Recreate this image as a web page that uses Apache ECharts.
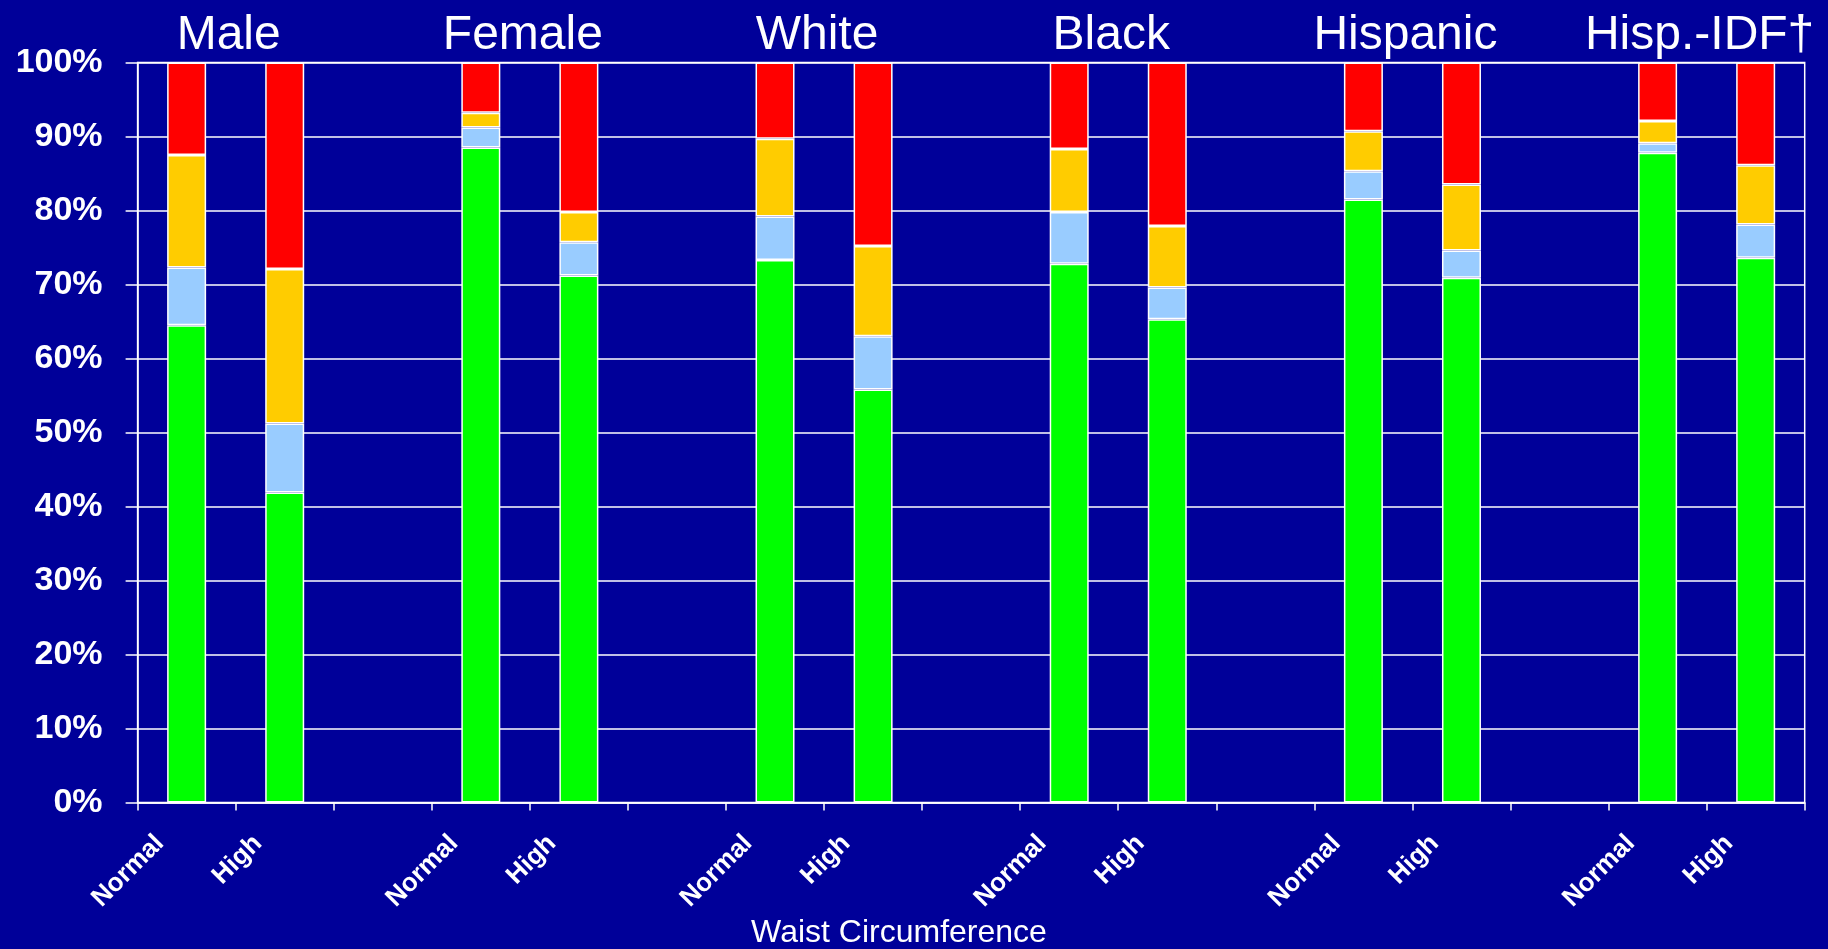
<!DOCTYPE html>
<html>
<head>
<meta charset="utf-8">
<title>Waist Circumference</title>
<script src="https://cdn.jsdelivr.net/npm/echarts@6/dist/echarts.min.js"></script>
<style>
  html, body { margin: 0; padding: 0; background: #000099; }
  #chart { width: 1828px; height: 949px; }
</style>
</head>
<body>
<div id="chart"></div>
<script>
// Population groups, each with a Normal and a High waist-circumference bar
const groupNames = ['Male', 'Female', 'White', 'Black', 'Hispanic', 'Hisp.-IDF\u2020'];
const waistLevels = ['Normal', 'High'];

// Percent of each bar per band, in order: Male N, Male H, Female N, Female H, ...
const greenPct  = [64.5, 41.9, 88.5, 71.2, 73.3, 55.8, 72.8, 65.3, 81.5, 70.9, 87.8, 73.6];
const bluePct   = [ 7.8,  9.3,  2.7,  4.5,  5.9,  7.2,  7.0,  4.3,  3.8,  3.7,  1.3,  4.5];
const yellowPct = [15.2, 20.9,  2.0,  4.1, 10.5, 12.2,  8.5,  8.3,  5.4,  8.9,  3.0,  8.0];
const redPct    = [12.5, 27.9,  6.8, 20.2, 10.3, 24.8, 11.7, 22.1,  9.3, 16.5,  7.9, 13.9];

const yTicks = [0, 10, 20, 30, 40, 50, 60, 70, 80, 90, 100];

const bandColors = ['#00ff00', '#99ccff', '#ffcc00', '#ff0000'];
const font = '"Liberation Sans", Arial, Helvetica, sans-serif';

// Category axis: Normal, High, then an empty spacer between groups
const categories = [];
groupNames.forEach((g, i) => {
  waistLevels.forEach(l => categories.push(l));
  if (i < groupNames.length - 1) categories.push('');
});

function spread(vals) {
  const out = [];
  let k = 0;
  groupNames.forEach((g, i) => {
    out.push(vals[k++], vals[k++]);
    if (i < groupNames.length - 1) out.push(null);
  });
  return out;
}

const bands = [greenPct, bluePct, yellowPct, redPct];
const bandNames = ['Band 1', 'Band 2', 'Band 3', 'Band 4'];

const chart = echarts.init(document.getElementById('chart'), null, { renderer: 'canvas' });

chart.setOption({
  backgroundColor: '#000099',
  animation: false,
  title: {
    text: 'Waist Circumference',
    left: 894,
    textAlign: 'center',
    top: 912,
    textStyle: { color: '#ffffff', fontFamily: font, fontWeight: 'normal', fontSize: 32 }
  },
  grid: {
    left: 137.6, right: 23.3, top: 62.5, bottom: 146.5,
    show: true, borderColor: '#ffffff', borderWidth: 1.5, backgroundColor: 'transparent'
  },
  xAxis: [
    {
      type: 'category',
      data: categories,
      position: 'bottom',
      axisLine: { show: true, lineStyle: { color: '#ffffff', width: 1.5 } },
      axisTick: { show: true, length: 8, lineStyle: { color: '#ffffff', width: 1.5 } },
      axisLabel: {
        interval: 0,
        rotate: 45,
        margin: 10,
        padding: [0, 38, 0, 0],
        color: '#ffffff',
        fontFamily: font,
        fontWeight: 'bold',
        fontSize: 26
      },
      splitLine: { show: false }
    },
    {
      type: 'value',
      position: 'top',
      min: 0, max: 17, interval: 1,
      axisLine: { show: false },
      axisTick: { show: false },
      splitLine: { show: false },
      axisLabel: {
        margin: 3,
        padding: [0, 14, 0, 0],
        color: '#ffffff',
        fontFamily: font,
        fontSize: 48,
        showMinLabel: false,
        showMaxLabel: false,
        formatter: v => ((v - 1) % 3 === 0 ? groupNames[(v - 1) / 3] : '')
      }
    }
  ],
  yAxis: {
    type: 'value',
    min: yTicks[0],
    max: yTicks[yTicks.length - 1],
    interval: yTicks[1] - yTicks[0],
    axisLine: { show: true, lineStyle: { color: '#ffffff', width: 1.5 } },
    axisTick: { show: true, length: 12, lineStyle: { color: '#ffffff', width: 1.5 } },
    axisLabel: {
      margin: 35,
      color: '#ffffff',
      fontFamily: font,
      fontWeight: 'bold',
      fontSize: 34,
      formatter: '{value}%'
    },
    splitLine: { show: true, lineStyle: { color: '#ffffff', width: 1.5 } }
  },
  series: bands.map((vals, i) => ({
    name: bandNames[i],
    type: 'bar',
    stack: 'total',
    xAxisIndex: 0,
    barWidth: 39,
    data: spread(vals),
    itemStyle: { color: bandColors[i], borderColor: '#ffffff', borderWidth: 1.5 }
  }))
});
</script>
</body>
</html>
